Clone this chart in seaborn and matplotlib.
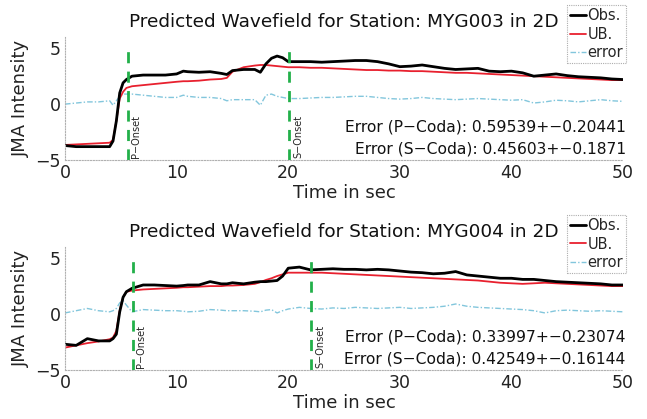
import numpy as np
import pandas as pd
import matplotlib
matplotlib.use("Agg")
import matplotlib.pyplot as plt
import seaborn as sns
from matplotlib.lines import Line2D

# ---------------- data ----------------
t = [0, 1, 2, 3, 4, 4.3, 4.6, 4.9, 5.2, 5.5, 6, 7, 8, 9, 10, 10.6, 11, 12, 13, 14, 14.5,
     15, 16, 17, 17.5, 18, 18.5, 19, 19.5, 20, 21, 22, 23, 24, 25, 26, 27, 28, 29, 30,
     31, 32, 33, 34, 35, 36, 37, 38, 39, 40, 41, 42, 43, 44, 45, 46, 47, 48, 49, 50]

obs_003 = [-3.7, -3.8, -3.8, -3.8, -3.8, -3.3, -1.5, 1.0, 1.9, 2.2, 2.5, 2.6, 2.6, 2.6, 2.7, 2.95, 2.9, 2.85, 2.9, 2.75, 2.65,
           3.0, 3.1, 3.1, 2.85, 3.6, 4.1, 4.3, 4.15, 3.8, 3.8, 3.8, 3.75, 3.8, 3.85, 3.9, 3.9, 3.8, 3.6, 3.35,
           3.4, 3.5, 3.35, 3.2, 3.1, 3.15, 3.2, 2.95, 2.9, 2.95, 2.8, 2.5, 2.6, 2.7, 2.55, 2.45, 2.4, 2.35, 2.25, 2.2]
ub_003 = [-3.65, -3.6, -3.55, -3.5, -3.45, -3.2, -1.5, 0.5, 1.1, 1.45, 1.6, 1.7, 1.8, 1.9, 2.0, 2.05, 2.05, 2.1, 2.2, 2.25, 2.35,
          2.9, 3.3, 3.45, 3.5, 3.5, 3.45, 3.4, 3.35, 3.3, 3.3, 3.25, 3.25, 3.2, 3.15, 3.1, 3.05, 3.05, 3.0, 3.0,
          2.95, 2.95, 2.9, 2.85, 2.8, 2.8, 2.75, 2.7, 2.65, 2.6, 2.55, 2.5, 2.45, 2.4, 2.35, 2.3, 2.25, 2.2, 2.15, 2.15]
err_003 = [0.0, 0.1, 0.2, 0.2, 0.3, -0.1, 0.3, 0.7, 0.9, 0.9, 0.9, 0.8, 0.7, 0.6, 0.6, 0.8, 0.7, 0.6, 0.6, 0.5, 0.3,
           0.4, 0.4, 0.4, -0.1, 0.8, 0.9, 0.7, 0.6, 0.5, 0.5, 0.55, 0.6, 0.6, 0.65, 0.7, 0.7, 0.6, 0.5, 0.45,
           0.5, 0.6, 0.5, 0.45, 0.4, 0.45, 0.5, 0.45, 0.4, 0.35, 0.4, 0.1, 0.2, 0.35, 0.3, 0.2, 0.3, 0.4, 0.3, 0.25]

obs_004 = [-2.7, -2.8, -2.2, -2.4, -2.4, -2.2, -1.8, 0.2, 1.5, 2.0, 2.3, 2.6, 2.6, 2.55, 2.5, 2.55, 2.6, 2.6, 2.9, 2.7, 2.7,
           2.8, 2.7, 2.85, 2.9, 2.9, 2.95, 3.0, 3.4, 4.1, 4.2, 3.95, 4.0, 4.05, 4.0, 4.0, 3.95, 4.0, 3.95, 3.85,
           3.75, 3.7, 3.6, 3.65, 3.8, 3.5, 3.4, 3.3, 3.2, 3.2, 3.1, 3.1, 3.0, 2.9, 2.85, 2.8, 2.75, 2.7, 2.6, 2.6]
ub_004 = [-3.0, -2.8, -2.6, -2.45, -2.25, -2.1, -1.5, 0.3, 1.5, 2.0, 2.1, 2.2, 2.25, 2.3, 2.35, 2.4, 2.4, 2.45, 2.5, 2.5, 2.55,
          2.55, 2.6, 2.7, 2.85, 3.05, 3.2, 3.4, 3.55, 3.7, 3.7, 3.7, 3.7, 3.65, 3.6, 3.55, 3.5, 3.45, 3.4, 3.35,
          3.3, 3.25, 3.2, 3.15, 3.1, 3.05, 3.0, 2.9, 2.8, 2.75, 2.7, 2.75, 2.8, 2.75, 2.7, 2.65, 2.6, 2.55, 2.5, 2.5]
err_004 = [0.1, 0.3, 0.5, 0.3, 0.2, 0.3, 0.5, 1.0, 1.2, 0.8, 0.2, 0.4, 0.35, 0.3, 0.3, 0.25, 0.2, 0.25, 0.4, 0.35, 0.3,
           0.3, 0.3, 0.25, 0.2, 0.35, 0.4, 0.1, 0.3, 0.45, 0.6, 0.5, 0.45, 0.55, 0.5, 0.6, 0.55, 0.5, 0.55, 0.6,
           0.5, 0.55, 0.6, 0.7, 0.9, 0.7, 0.6, 0.55, 0.5, 0.45, 0.4, 0.3, 0.1, 0.3, 0.35, 0.3, 0.25, 0.3, 0.25, 0.2]

stations = ["MYG003", "MYG004"]
p_onsets = [5.6, 6.05]
s_onsets = [20.1, 22.05]
err_texts = [["Error (P\u2212Coda): 0.59539+\u22120.20441", "Error (S\u2212Coda): 0.45603+\u22120.1871"],
             ["Error (P\u2212Coda): 0.33997+\u22120.23074", "Error (S\u2212Coda): 0.42549+\u22120.16144"]]
xticks = [0, 10, 20, 30, 40, 50]
yticks = [-5, 0, 5]

series = [(obs_003, ub_003, err_003), (obs_004, ub_004, err_004)]
for s in series:
    for arr in s:
        assert len(arr) == len(t)

# ---------------- plot ----------------
sns.set_theme(style="white")
plt.rcParams["font.family"] = ["DejaVu Sans"]

fig = plt.figure(figsize=(6.47, 4.19), dpi=100)
positions = [[0.1005, 0.618, 0.8625, 0.2936], [0.1005, 0.117, 0.8625, 0.2936]]

C_OBS = "black"
C_UB = "#e8202e"
C_ERR = "#82c6dc"
C_GREEN = "#22b04a"
ERR_LS = (0, (4, 1.5, 1, 1.5))

for i in range(2):
    ax = fig.add_axes(positions[i])
    obs, ub, err = series[i]
    df = pd.DataFrame({"t": t, "obs": obs, "ub": ub, "err": err})
    sns.lineplot(data=df, x="t", y="err", ax=ax, color=C_ERR, lw=1.0, linestyle=ERR_LS)
    sns.lineplot(data=df, x="t", y="ub", ax=ax, color=C_UB, lw=1.3)
    sns.lineplot(data=df, x="t", y="obs", ax=ax, color=C_OBS, lw=2.0)
    for xo, lab in [(p_onsets[i], "P\u2212Onset"), (s_onsets[i], "S\u2212Onset")]:
        ax.plot([xo, xo], [-5, 5.1], color=C_GREEN, lw=2.0, linestyle=(0, (4, 3)))
        ax.text(xo + 0.35, -4.85, lab, rotation=90, fontsize=7, ha="left", va="bottom")
    ax.set_xlim(0, 50)
    ax.set_ylim(-5, 6)
    ax.set_xticks(xticks)
    ax.set_yticks(yticks)
    ax.tick_params(axis="both", labelsize=12.5, direction="in", length=2, colors="#aaaaaa",
                   labelcolor="#222222", pad=3)
    ax.spines["top"].set_visible(False)
    ax.spines["right"].set_visible(False)
    for sp in ["left", "bottom"]:
        ax.spines[sp].set_linestyle((0, (1, 1.5)))
        ax.spines[sp].set_color("#b0b0b0")
        ax.spines[sp].set_linewidth(0.8)
    ax.set_xlabel("Time in sec", fontsize=13, color="#222222", labelpad=1)
    ax.set_ylabel("JMA Intensity", fontsize=13, color="#222222", labelpad=4)
    ax.set_title(f"Predicted Wavefield for Station: {stations[i]} in 2D", fontsize=13.3, color="#111111", pad=7)
    ax.text(1.005, 0.27, err_texts[i][0], transform=ax.transAxes, ha="right", va="center", fontsize=11.2, color="#111111")
    ax.text(1.005, 0.09, err_texts[i][1], transform=ax.transAxes, ha="right", va="center", fontsize=11.2, color="#111111")
    handles = [Line2D([], [], color=C_OBS, lw=2.0), Line2D([], [], color=C_UB, lw=1.3),
               Line2D([], [], color=C_ERR, lw=1.0, linestyle=ERR_LS)]
    leg = ax.legend(handles, ["Obs.", "UB.", "error"], loc="upper right",
                    bbox_to_anchor=(1.005, 1.26), fontsize=10.5, frameon=True, fancybox=False,
                    handlelength=1.1, handletextpad=0.1, borderpad=0.2, labelspacing=0.25,
                    borderaxespad=0)
    fr = leg.get_frame()
    fr.set_edgecolor("#999999")
    fr.set_linestyle((0, (1, 1)))
    fr.set_linewidth(0.8)

fig.savefig("out.png", dpi=100)
